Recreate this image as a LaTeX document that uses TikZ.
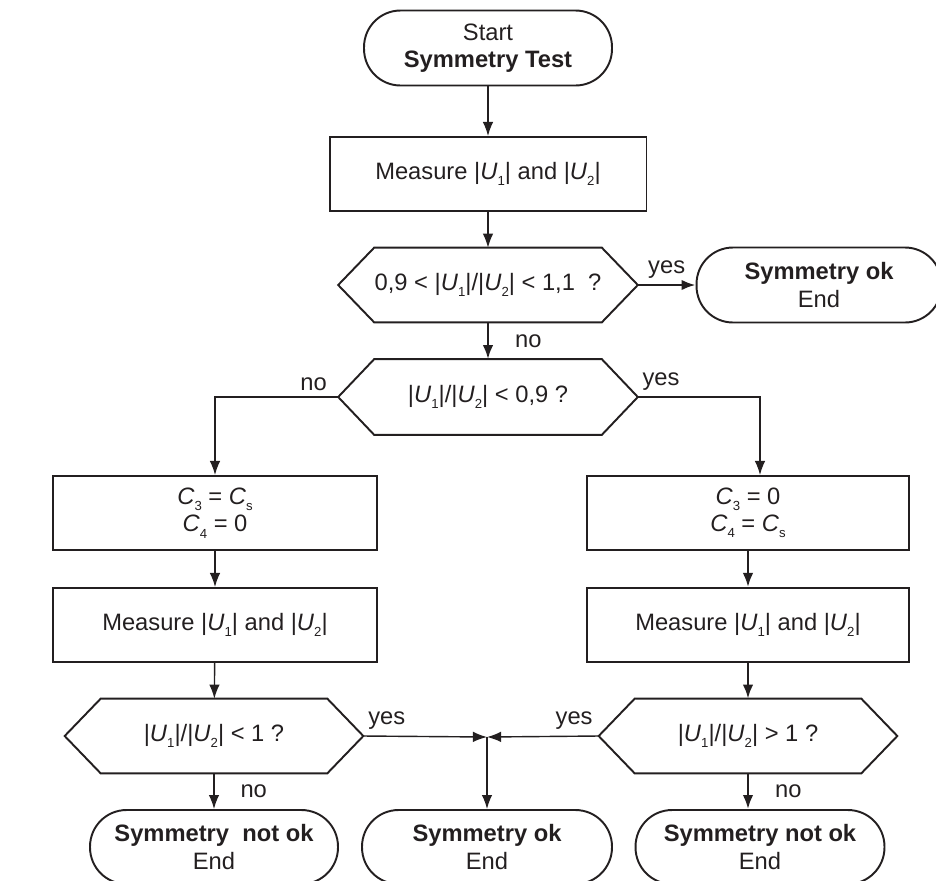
\documentclass[tikz,border=0pt]{standalone}
\usepackage{fontspec}
\setmainfont{Liberation Sans}
\usetikzlibrary{arrows.meta}
\definecolor{inkBlack}{RGB}{35,31,32}
\newcommand{\SubIdx}[1]{\raisebox{-0.5ex}{\fontsize{7.5}{8}\selectfont #1}}
\newcommand{\AbsU}[1]{|\textit{U}\SubIdx{#1}|}
\newcommand{\CapC}[1]{\textit{C}\SubIdx{#1}}
\tikzset{
  termBox/.style={draw=inkBlack,line width=1.1pt,rounded corners=0.73cm,minimum width=4.96cm,minimum height=1.5cm,align=center,inner sep=0pt},
  stepBox/.style={draw=inkBlack,line width=1.1pt,minimum height=1.48cm,align=center,inner sep=0pt},
  testBox/.style={minimum width=5.98cm,minimum height=1.48cm,inner sep=0pt},
  hexLine/.style={draw=inkBlack,line width=1.1pt,line join=miter},
  flowArrow/.style={draw=inkBlack,line width=0.8pt,-{Latex[length=8pt,width=6pt]}},
  heavyArrow/.style={flowArrow,line width=1.4pt}
}

\begin{document}
\begin{tikzpicture}[x=0.02cm,y=-0.02cm,font=\fontsize{13.5}{15.5}\selectfont,text=inkBlack]
\useasboundingbox (0,0) rectangle (936,880);
% upper part
\node[termBox] (start) at (488,48) {Start\\\textbf{Symmetry Test}};
\node[stepBox,minimum width=6.34cm] (meas) at (488,174) {Measure \AbsU{1} and \AbsU{2}};
\node[testBox] (inband) at (488,285) {0,9 < \AbsU{1}/\AbsU{2} < 1,1\ \ ?};
\node[termBox,minimum width=4.9cm] (okA) at (819,285) {\textbf{Symmetry ok}\\End};
\node[testBox,minimum height=1.5cm] (lowtest) at (488,397) {\AbsU{1}/\AbsU{2} < 0,9 ?};
% two branches
\node[stepBox,minimum width=6.48cm] (leftset) at (215,513) {\CapC{3} = \CapC{s}\\\CapC{4} = 0};
\node[stepBox,minimum width=6.44cm] (rightset) at (748,513) {\CapC{3} = 0\\\CapC{4} = \CapC{s}};
\node[stepBox,minimum width=6.48cm] (leftmeas) at (215,625) {Measure \AbsU{1} and \AbsU{2}};
\node[stepBox,minimum width=6.44cm] (rightmeas) at (748,625) {Measure \AbsU{1} and \AbsU{2}};
\node[testBox,minimum width=5.96cm] (lefttest) at (214,736) {\AbsU{1}/\AbsU{2} < 1 ?};
\node[testBox,minimum width=5.96cm] (righttest) at (748,736) {\AbsU{1}/\AbsU{2} > 1 ?};
% end states
\node[termBox,minimum height=1.48cm] (failL) at (214,847) {\textbf{Symmetry\ \ not ok}\\End};
\node[termBox,minimum width=5cm,minimum height=1.48cm] (okB) at (487,847) {\textbf{Symmetry ok}\\End};
\node[termBox,minimum width=4.98cm,minimum height=1.48cm] (failR) at (760,847) {\textbf{Symmetry not ok}\\End};
% hexagon outlines
\foreach \q in {inband,lowtest,lefttest,righttest}
  \draw[hexLine] (\q.west) -- ([xshift=0.72cm]\q.north west) -- ([xshift=-0.72cm]\q.north east)
    -- (\q.east) -- ([xshift=-0.72cm]\q.south east) -- ([xshift=0.72cm]\q.south west) -- cycle;
% connectors
\draw[flowArrow] (start) -- (meas);
\draw[flowArrow] (meas) -- (inband);
\draw[heavyArrow] (inband) -- node[above] {yes} (okA);
\draw[heavyArrow] (inband) -- node[right=0.4cm] {no} (lowtest);
\draw[flowArrow] (lowtest.west) -| node[pos=0.1,above] {no} (leftset.north);
\draw[flowArrow] (lowtest.east) -| node[pos=0.095,above] {yes} ([xshift=0.24cm]rightset.north);
\draw[flowArrow] (leftset) -- (leftmeas);
\draw[flowArrow] (leftmeas) -- (lefttest);
\draw[heavyArrow] (rightset) -- (rightmeas);
\draw[heavyArrow] (rightmeas) -- (righttest);
\coordinate (meet) at (487,737);
\draw[flowArrow] (lefttest.east) -- node[pos=0.19,above] {yes} (meet);
\draw[flowArrow] (righttest.west) -- node[pos=0.22,above] {yes} (meet);
\draw[flowArrow] (meet) -- (okB.north);
\draw[flowArrow] (lefttest) -- node[right=0.4cm] {no} (failL);
\draw[heavyArrow] (righttest.south) -- node[right=0.4cm] {no} (righttest.south |- failR.north);
\end{tikzpicture}
\end{document}
